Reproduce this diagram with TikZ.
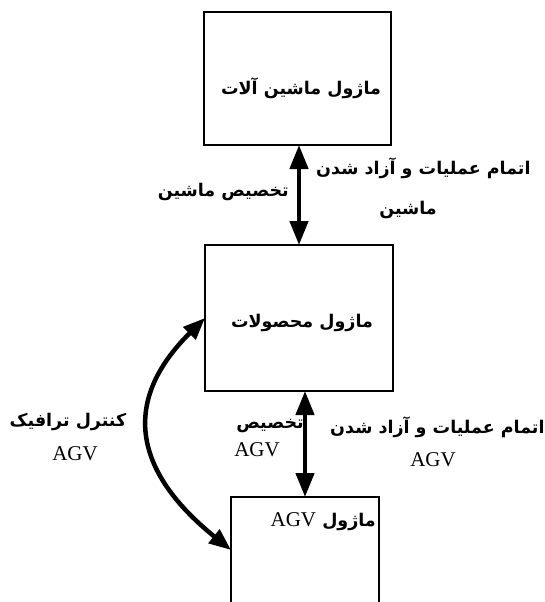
\documentclass[tikz,border=0pt]{standalone}
\usepackage{fontspec}
\setmainfont{Liberation Serif}
\newfontfamily\farsi[Script=Arabic]{DejaVu Sans}
\newfontfamily\latin{Liberation Serif}
\TeXXeTstate=1
\usetikzlibrary{arrows.meta,positioning}

\begin{document}
\begin{tikzpicture}[x=1pt,y=-1pt]
  % one unit is one pixel of the 544 x 602 sheet, y runs downwards
  \tikzset{
    module/.style = {draw, line width=1.5pt, inner sep=0pt, outer sep=0pt, anchor=north west},
    flow/.style   = {line width=4.5pt, {Triangle[width=18pt,length=24pt]}-{Triangle[width=18pt,length=24pt]}},
    curveflow/.style = {line width=4.5pt, {Triangle[width=17pt,length=22pt]}-{Triangle[width=17pt,length=22pt]}},
    fa/.style     = {font=\farsi\bfseries\fontsize{17.5}{21}\selectfont, inner sep=0pt},
    en/.style     = {font=\latin\fontsize{21}{24}\selectfont, inner sep=0pt}
  }
  \useasboundingbox (0,0) rectangle (544,602);

  % ========= modules =========
  \node[module, minimum width=187pt, minimum height=133pt] (mach) at (204,12) {};
  \node[module, minimum width=188pt, minimum height=146pt] (prod) at (205,245) {};
  % AGV module runs off the bottom of the sheet
  \node[module, draw=none, minimum width=148pt, minimum height=106pt] (agv) at (231,497) {};
  \draw[line width=1.5pt] (agv.south west) -- (agv.north west) -- (agv.north east) -- (agv.south east);

  \node[fa] (machtxt) at (301,88) {\beginR ماژول ماشین آلات\endR};
  \node[fa] (prodtxt) at (302,323) {\beginR ماژول محصولات\endR};
  \node[fa, anchor=east] (agvtxt) at (376,522) {\beginR ماژول {\latin\fontsize{21}{24}\selectfont\mdseries\beginL AGV\endL}\endR};

  % ========= connectors =========
  \draw[flow] (prod.north |- mach.south) -- (prod.north);
  \draw[flow] (prod.south -| agv.north) -- (agv.north);
  \draw[curveflow] (prod.west) .. controls (122,400) and (132,470) .. (agv.west);

  % ========= labels =========
  % machine link
  \node[fa, anchor=east] (allocm) at (289,192) {\beginR تخصیص ماشین\endR};
  \node[fa, anchor=west] (relm1) at (316,168) {\beginR اتمام عملیات و آزاد شدن\endR};
  \node[fa] (relm2) at (408,210) {\beginR ماشین\endR};
  % AGV link
  \node[fa] (alloca1) at (270,426) {\beginR تخصیص\endR};
  \node[en] (alloca2) at (257,450) {AGV};
  \node[fa, anchor=west] (rela1) at (330,427) {\beginR اتمام عملیات و آزاد شدن\endR};
  \node[en] (rela2) at (433,460) {AGV};
  % traffic
  \node[fa] (traf1) at (68,422) {\beginR کنترل ترافیک\endR};
  \node[en] (traf2) at (75,454) {AGV};
\end{tikzpicture}
\end{document}
